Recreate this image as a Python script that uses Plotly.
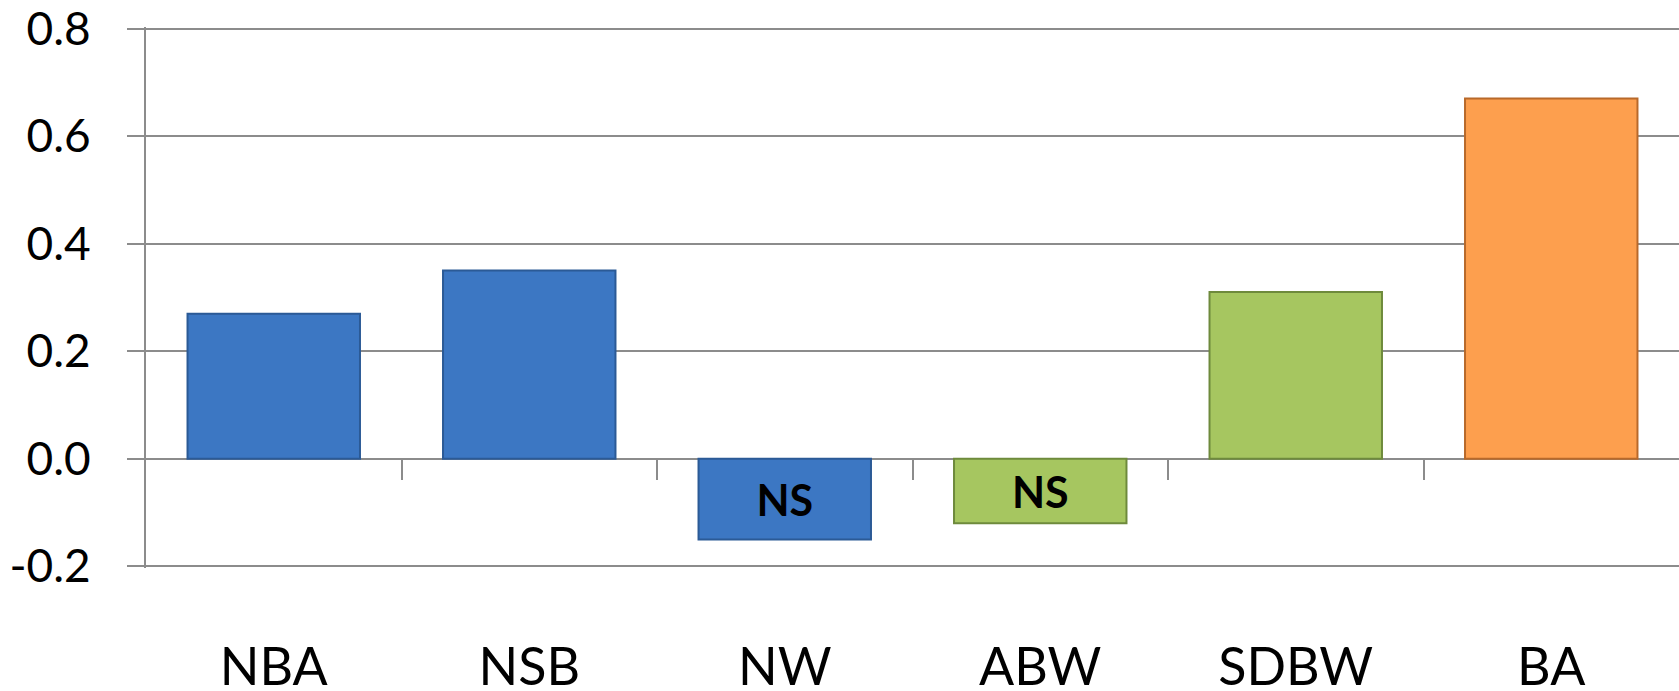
import plotly.graph_objects as go

# Effect sizes per measure
categories = ["NBA", "NSB", "NW", "ABW", "SDBW", "BA"]
values = [0.27, 0.35, -0.15, -0.12, 0.31, 0.67]
bar_labels = ["", "", "NS", "NS", "", ""]
fill_colors = ["#3c77c3", "#3c77c3", "#3c77c3", "#a6c660", "#a6c660", "#fd9f4e"]
edge_colors = ["#2b5a96", "#2b5a96", "#2b5a96", "#6e8a3c", "#6e8a3c", "#b8692a"]

y_ticks = [-0.2, 0.0, 0.2, 0.4, 0.6, 0.8]
y_tick_text = ["-0.2", "0.0", "0.2", "0.4", "0.6", "0.8"]

GRID = "#8c8c8c"
FONT = "Lato"
PAD = 0.003  # keeps the end gridlines from being clipped

fig = go.Figure()

fig.add_trace(go.Bar(
    x=categories,
    y=values,
    width=0.675,
    marker=dict(color=fill_colors, line=dict(color=edge_colors, width=2)),
    text=bar_labels,
    textposition="inside",
    insidetextanchor="middle",
    textangle=0,
    constraintext="none",
    textfont=dict(family=FONT, size=43, color="black", weight="bold"),
    hoverinfo="skip",
    showlegend=False,
))

# boundary ticks hanging from the zero line between categories
fig.add_trace(go.Scatter(
    x=[-0.5, len(categories) - 0.5],
    y=[0, 0],
    xaxis="x2",
    mode="lines",
    line=dict(width=0),
    hoverinfo="skip",
    showlegend=False,
))

y_min, y_max = y_ticks[0] - PAD, y_ticks[-1] + PAD
zero_pos = (0 - y_min) / (y_max - y_min)

fig.update_layout(
    width=1679,
    height=691,
    margin=dict(l=146, r=0, t=27, b=123, autoexpand=False),
    paper_bgcolor="white",
    plot_bgcolor="white",
    xaxis=dict(
        type="category",
        range=[-0.5, len(categories) - 0.5],
        automargin=False,
        showgrid=False,
        showline=False,
        zeroline=False,
        ticks="",
        tickfont=dict(family=FONT, size=52, color="black"),
        ticklabelstandoff=64,
        ticklabeloverflow="allow",
        fixedrange=True,
    ),
    xaxis2=dict(
        overlaying="x",
        anchor="free",
        position=zero_pos,
        side="bottom",
        automargin=False,
        range=[-0.5, len(categories) - 0.5],
        tickvals=[i + 0.5 for i in range(len(categories) - 1)],
        ticks="outside",
        ticklen=20,
        tickwidth=2,
        tickcolor=GRID,
        showticklabels=False,
        showgrid=False,
        showline=False,
        zeroline=False,
    ),
    yaxis=dict(
        range=[y_min, y_max],
        automargin=False,
        tickvals=y_ticks,
        ticktext=y_tick_text,
        showgrid=True,
        gridcolor=GRID,
        gridwidth=2,
        zeroline=True,
        zerolinecolor=GRID,
        zerolinewidth=2,
        showline=True,
        linecolor=GRID,
        linewidth=2,
        ticks="outside",
        ticklen=17,
        tickwidth=2,
        tickcolor=GRID,
        tickfont=dict(family=FONT, size=46, color="black"),
        ticklabelstandoff=27,
        ticklabeloverflow="allow",
        fixedrange=True,
    ),
)

fig.write_html("out.html")
